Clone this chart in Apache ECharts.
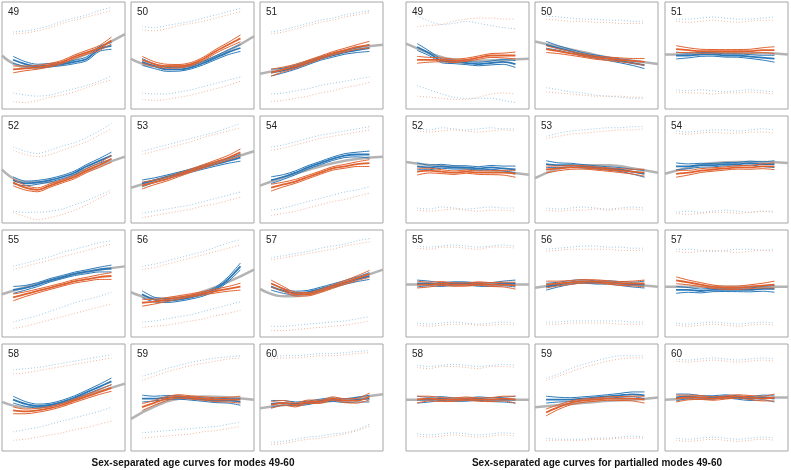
<!DOCTYPE html>
<html><head><meta charset="utf-8">
<script src="https://cdn.jsdelivr.net/npm/echarts@6/dist/echarts.min.js"></script>
<style>html,body{margin:0;padding:0;background:#fff}#c{width:791px;height:470px}</style>
</head><body><div id="c"></div>
<script>
// ---- data (values in % of panel height, x in % of panel width) ----
const panelLabels = ['49','50','51','52','53','54','55','56','57','58','59','60',
                     '49','50','51','52','53','54','55','56','57','58','59','60'];
const groupTitles = ['Sex-separated age curves for modes 49-60',
                     'Sex-separated age curves for partialled modes 49-60'];
const xSamples = [9,19,29,39,49,59,69,79,89];
const grayX = [0,20,40,60,80,100];
const bandHalfWidth = [3.2,2.2,1.8,1.6,1.5,1.6,1.8,2.2,3.2];

const grayCurves = [
 [50,39,40,47,58,70],[47,40,40,45,55,68],[33,38,45,52,57,60],
 [50,38,38,45,54,62],[33,40,47,54,60,67],[35,43,50,56,60,62],
 [40,47,53,59,63,66],[42,36,37,43,52,63],[45,38,40,47,55,63],
 [46,41,43,49,56,63],[30,42,49,51,50,48],[40,43,45,47,50,53],
 [61,52,46,45,46,47],[63,58,53,48,45,42],[51,51,52,52,52,51],
 [57,54,52,50,48,45],[42,51,54,54,51,47],[46,52,56,57,57,56],
 [49,49,50,50,49,49],[46,49,51,51,49,47],[47,47,47,47,47,47],
 [48,48,48,48,48,48],[41,43,45,47,48,50],[48,49,50,50,50,50]
];
const blueMeans = [
 [46,42,40,41,42,44,47,56,59],[44,40,37,37,39,43,48,53,57],[34,36,39,43,47,50,53,55,57],
 [40,37,38,40,43,47,53,58,63],[37,40,43,46,49,52,55,58,61],[40,43,47,52,56,60,63,64,64],
 [44,46,49,53,56,59,61,63,64],[40,35,34,35,37,40,45,54,66],[47,43,41,42,45,48,51,54,57],
 [48,44,42,43,46,50,55,60,65],[49,49,50,50,49,48,47,47,46],[44,45,44,45,47,48,47,48,49],
 [58,52,45,44,43,42,43,44,42],[60,57,54,51,49,47,45,43,41],[50,50,51,51,50,50,49,48,47],
 [53,52,53,52,52,51,52,51,50],[55,54,54,53,52,51,50,48,46],[53,53,54,54,55,55,56,55,55],
 [50,50,49,50,50,49,49,50,50],[47,49,51,52,51,51,50,49,49],[44,44,43,44,44,44,44,45,45],
 [48,48,49,48,48,49,48,48,48],[48,48,48,49,50,51,52,53,52],[50,51,50,50,51,50,49,50,49]
];
const orangeMeans = [
 [37,38,39,41,44,49,53,57,64],[46,42,40,40,42,47,54,60,66],[34,37,40,44,48,52,55,58,60],
 [38,33,31,35,39,43,49,54,60],[35,38,41,45,49,53,57,61,66],[33,36,39,43,47,51,53,55,56],
 [37,40,43,46,49,52,54,56,57],[32,33,35,37,39,41,43,45,47],[50,45,40,40,43,47,51,55,59],
 [38,37,38,40,43,47,51,55,59],[41,45,49,51,50,49,48,48,48],[43,45,43,46,46,49,47,47,51],
 [46,46,46,45,46,48,50,50,50],[56,54,52,50,48,47,46,45,44],[56,55,54,54,54,54,54,55,55],
 [48,49,48,47,48,47,47,47,46],[50,51,52,52,51,50,49,48,47],[46,47,49,50,51,52,52,53,53],
 [49,49,50,49,49,50,49,49,48],[49,50,51,52,52,51,50,50,50],[53,51,49,47,46,46,47,48,49],
 [48,49,48,48,49,48,48,49,48],[36,41,45,47,48,49,49,49,48],[49,50,50,49,50,51,50,49,50]
];
const blueTops = [
 [72,73,75,78,82,85,88,92,95],[77,76,78,80,82,85,88,91,94],[72,74,77,80,83,85,88,90,92],
 [71,67,65,68,72,75,80,86,93],[67,70,73,76,79,82,85,89,93],[71,73,76,79,82,84,86,88,90],
 [66,69,72,75,79,82,85,88,90],[66,68,71,74,77,80,84,88,91],[74,76,78,80,83,85,87,90,92],
 [76,77,78,80,82,84,86,88,90],[70,73,77,80,83,85,87,88,89],[88,89,89,90,91,91,92,93,94],
 [87,82,79,80,82,80,78,76,75],[87,86,85,84,84,83,83,82,82],[84,84,85,86,85,84,84,85,86],
 [88,87,89,88,87,88,89,88,88],[81,84,86,87,88,89,89,90,90],[86,85,86,87,87,86,87,88,87],
 [85,84,85,86,85,84,85,86,85],[82,83,84,85,85,84,84,83,83],[82,82,81,80,81,82,82,81,82],
 [80,79,80,81,80,79,80,81,80],[68,72,77,81,84,87,89,89,89],[86,85,86,87,86,85,86,87,86]
];
const orangeTops = [
 [70,71,73,76,80,83,86,89,92],[74,73,75,78,80,82,85,88,91],[70,72,75,78,81,83,86,88,90],
 [68,64,62,64,68,72,76,82,88],[64,67,70,73,76,80,83,86,89],[68,70,73,76,79,81,83,85,87],
 [63,66,69,72,75,78,81,84,87],[63,65,68,71,74,77,80,83,86],[72,74,76,78,80,82,85,87,89],
 [72,73,75,77,79,81,83,85,87],[66,70,74,77,80,82,84,86,87],[86,87,87,88,89,89,90,91,92],
 [77,78,79,82,84,85,85,84,84],[84,83,82,82,81,81,80,80,80],[82,81,82,83,82,81,82,83,83],
 [86,85,86,87,86,85,86,87,86],[79,81,83,84,85,86,87,87,88],[84,83,84,85,84,84,85,85,84],
 [83,82,84,84,83,82,84,84,83],[80,81,82,82,82,82,81,81,81],[80,79,80,81,80,79,80,81,80],
 [78,77,79,79,78,77,79,79,78],[66,70,74,78,81,84,86,87,87],[84,83,84,85,84,83,84,85,84]
];
const blueBottoms = [
 [15,13,12,13,16,19,22,26,31],[15,14,14,16,18,21,24,27,30],[14,15,17,19,22,24,26,28,30],
 [11,10,10,11,13,17,21,26,31],[9,11,13,15,17,20,23,26,29],[12,14,17,20,23,26,29,31,34],
 [14,17,20,24,28,32,35,38,42],[14,15,17,19,21,24,27,30,33],[10,10,11,12,13,14,15,17,19],
 [18,20,22,25,28,31,34,37,41],[17,18,19,20,21,22,23,25,27],[8,9,11,13,14,16,17,20,25],
 [22,18,14,11,10,10,10,8,6],[20,18,16,15,13,12,11,10,10],[18,17,18,17,16,17,18,17,16],
 [14,13,15,14,13,14,15,14,14],[14,13,14,15,14,13,14,15,14],[10,11,10,11,12,11,10,11,11],
 [13,12,13,14,13,12,13,14,13],[14,14,15,15,15,15,15,14,14],[13,12,13,14,13,12,13,14,13],
 [16,15,16,17,16,15,16,17,16],[12,11,11,11,12,12,13,14,13],[12,11,12,13,12,11,12,13,12]
];
const orangeBottoms = [
 [7,6,8,11,13,16,20,24,27],[9,8,9,11,13,16,19,22,26],[7,8,10,12,15,17,20,22,25],
 [10,6,3,5,8,12,17,23,29],[5,7,9,11,13,16,18,21,24],[7,9,11,14,17,20,22,25,28],
 [8,10,13,16,19,22,25,28,31],[9,10,11,13,15,17,20,22,25],[6,6,7,8,9,10,11,13,15],
 [10,11,13,15,17,20,22,25,28],[12,13,14,15,16,18,19,21,23],[6,7,9,11,12,14,16,19,23],
 [12,11,10,9,9,11,14,15,14],[16,15,14,13,12,12,12,11,11],[16,15,15,14,15,15,16,15,14],
 [12,11,12,13,12,11,12,12,11],[12,11,12,12,13,12,13,13,12],[9,8,9,10,10,9,10,11,10],
 [11,10,11,12,12,11,11,12,11],[12,12,13,13,13,13,12,12,12],[11,10,11,12,11,10,11,12,11],
 [14,13,14,15,14,13,14,15,14],[10,10,10,10,11,11,12,12,12],[10,9,10,11,10,9,10,11,10]
];

// ---- layout ----
const colLefts = [2,131,260,406,535,665];
const rowTops = [2,116,230,344];
const panelW = 123, panelH = 107;

const BLUE = '#2a78b8', ORANGE = '#e0612e', GRAY = '#b3b3b3';
const LBLUE = '#9cc8e8', LORANGE = '#f3b79c';

const chart = echarts.init(document.getElementById('c'), null, {renderer:'canvas'});
const grids = [], xAxes = [], yAxes = [], series = [], titles = [];

function pts(xs, ys, off) {
  return ys.map((v, i) => [xs[i], v + (off ? off[i] : 0)]);
}
function line(idx, data, color, width, type, smooth, z) {
  series.push({
    type:'line', xAxisIndex:idx, yAxisIndex:idx, data:data, showSymbol:false, symbol:'none',
    smooth:smooth, lineStyle:{color:color, width:width, type:type}, z:z, silent:true
  });
}

for (let p = 0; p < 24; p++) {
  const g = p < 12 ? 0 : 1;
  const k = p % 12;
  const col = g * 3 + (k % 3);
  const row = Math.floor(k / 3);
  const left = colLefts[col], top = rowTops[row];
  grids.push({left:left, top:top, width:panelW, height:panelH, show:true,
    borderColor:'#a6a6a6', borderWidth:1, backgroundColor:'#fff', containLabel:false});
  xAxes.push({type:'value', gridIndex:p, min:0, max:100, show:false});
  yAxes.push({type:'value', gridIndex:p, min:0, max:100, show:false});
  titles.push({text:panelLabels[p], left:left+6, top:top+5, padding:0,
    textStyle:{fontSize:10, fontWeight:'normal', color:'#222', fontFamily:'Liberation Sans, Arial, sans-serif'}});

  const up = bandHalfWidth, dn = bandHalfWidth.map(v => -v);
  line(p, pts(xSamples, blueTops[p]), LBLUE, 1, [1,2], 0.3, 2);
  line(p, pts(xSamples, orangeTops[p]), LORANGE, 1, [1,2], 0.3, 2);
  line(p, pts(xSamples, blueBottoms[p]), LBLUE, 1, [1,2], 0.3, 2);
  line(p, pts(xSamples, orangeBottoms[p]), LORANGE, 1, [1,2], 0.3, 2);
  line(p, pts(grayX, grayCurves[p]), GRAY, 2.5, 'solid', 0.5, 3);
  line(p, pts(xSamples, blueMeans[p], up), BLUE, 1, 'solid', 0.3, 4);
  line(p, pts(xSamples, blueMeans[p], dn), BLUE, 1, 'solid', 0.3, 4);
  line(p, pts(xSamples, blueMeans[p]), BLUE, 1.8, 'solid', 0.3, 4);
  line(p, pts(xSamples, orangeMeans[p], up), ORANGE, 1, 'solid', 0.3, 5);
  line(p, pts(xSamples, orangeMeans[p], dn), ORANGE, 1, 'solid', 0.3, 5);
  line(p, pts(xSamples, orangeMeans[p]), ORANGE, 1.8, 'solid', 0.3, 5);
}
titles.push({text:groupTitles[0], left:193, top:458, textAlign:'center', padding:0,
  textStyle:{fontSize:10, fontWeight:'bold', color:'#111', fontFamily:'Liberation Sans, Arial, sans-serif'}});
titles.push({text:groupTitles[1], left:597, top:458, textAlign:'center', padding:0,
  textStyle:{fontSize:10, fontWeight:'bold', color:'#111', fontFamily:'Liberation Sans, Arial, sans-serif'}});

chart.setOption({animation:false, backgroundColor:'#fff', title:titles, grid:grids,
  xAxis:xAxes, yAxis:yAxes, series:series});
</script></body></html>
